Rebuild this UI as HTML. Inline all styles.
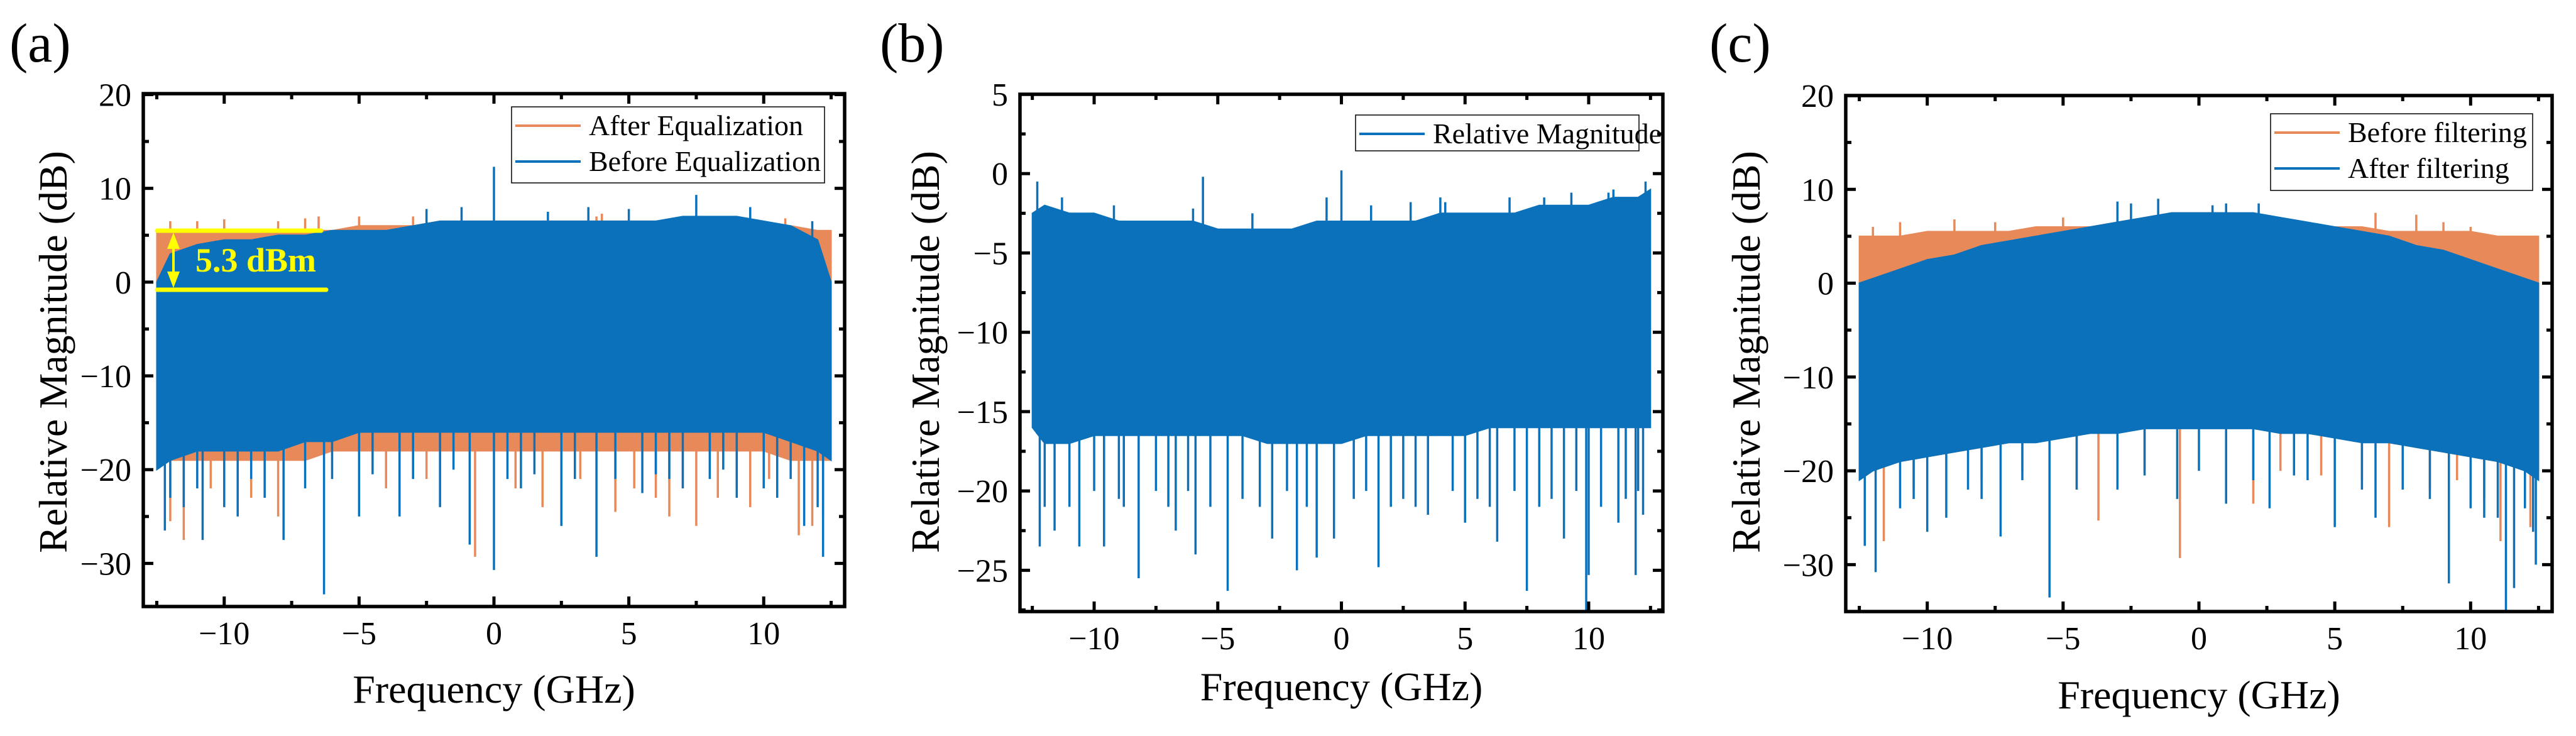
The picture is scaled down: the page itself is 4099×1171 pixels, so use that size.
<!DOCTYPE html>
<html><head><meta charset="utf-8">
<style>
html,body{margin:0;padding:0;background:#fff;}
svg{display:block;}
svg text{font-family:"Liberation Serif","DejaVu Serif",serif;}
</style></head>
<body>
<svg id="fig" width="4099" height="1171" viewBox="0 0 4099 1171" xmlns="http://www.w3.org/2000/svg" font-family="Liberation Serif, serif"></svg>
<script>
// ---------- DATA ----------
const freqGrid = [-12.5,-12,-11,-10,-9,-8,-7,-6,-5,-4,-3,-2,-1,0,1,2,3,4,5,6,7,8,9,10,11,12,12.5];
const xTicks = [-10,-5,0,5,10];
const xTickLabels = ["\u221210","\u22125","0","5","10"];

// Panel (a)
const aYTicks = [20,10,0,-10,-20,-30];
const aYTickLabels = ["20","10","0","\u221210","\u221220","\u221230"];
const aAfterUpper = [5.5,5.5,5.5,5.5,5.5,5.5,5.5,5.5,6,6,6,6.5,6.5,6.5,6.5,6.5,6.5,6.5,6.5,6.5,6.5,6.5,6.5,6,6,5.5,5.5];
const aAfterLower = [-19,-19,-19,-19,-19,-19,-19,-18,-18,-18,-18,-18,-18,-18,-18,-18,-18,-18,-18,-18,-18,-18,-18,-18,-19,-19,-19];
const aBeforeUpper = [0,3,4,4.5,4.5,5,5,5.5,5.5,5.5,6,6.5,6.5,6.5,6.5,6.5,6.5,6.5,6.5,6.5,7,7,7,6.5,6,4.5,0];
const aBeforeLower = [-20,-19,-18,-18,-18,-18,-17,-17,-16,-16,-16,-16,-16,-16,-16,-16,-16,-16,-16,-16,-16,-16,-16,-16,-17,-18,-19];
const aAfterSpikeF = [-12,-11.5,-8,-0.7,2.5,4.5,6.5,7.5,9.5,11.3,11.8,12.2,-12,-8,-5,3.8,-10.5,-9,-4,-2.5,0.8,1.8,3.2,5.2,6,7,8.3,9,10.2,-6.5,-11,-3,4,8,10.8,-10,-7];
const aAfterSpikeV = [-25.5,-27.5,-25,-29.3,-26,-24.5,-25,-26,-24,-27,-26,-25,6.5,6.5,7,7,-22,-23,-22,-21,-22,-24,-21,-22,-23,-22,-23,-22,-21,7,6.5,7,7.3,7,6.8,6.7,6.8];
const aBeforeSpikeF = [-12.2,-11.5,-10.8,-9.5,-8.5,-7.8,-6.3,-5,-3.5,-2,-0.9,0,1,2.5,3.8,5.5,7,9,10.5,11.5,12.2,0,7.5,-1.2,3.5,-12,-11,-10,-9,-7,-6,-4.5,-3,-1.5,0.5,1.5,3,4.5,6,6.5,8,8.5,10,11,12,-2.5,2,5,9.5,11.8];
const aBeforeSpikeV = [-26.5,-24,-27.5,-25,-23,-27.5,-33.3,-25,-25,-24,-28,-30.7,-22,-26,-29.3,-22.5,-22,-23,-23,-26,-29.3,12.3,9.3,8,8,-23,-22,-24,-21,-22,-21,-20.5,-21,-20,-21,-20.5,-21,-21,-20.5,-21,-21,-20,-22,-21,-24,7.8,7.5,7.8,8,6.5];

// Panel (b)
const bYTicks = [5,0,-5,-10,-15,-20,-25];
const bYTickLabels = ["5","0","\u22125","\u221210","\u221215","\u221220","\u221225"];
const bUpper = [-2.5,-2,-2.5,-2.5,-3,-3,-3,-3,-3.5,-3.5,-3.5,-3.5,-3,-3,-3,-3,-3,-2.5,-2.5,-2.5,-2.5,-2,-2,-2,-1.5,-1.5,-1];
const bLower = [-16,-17,-17,-16.5,-16.5,-16.5,-16.5,-16.5,-16.5,-16.5,-17,-17,-17,-17,-16.5,-16.5,-16.5,-16.5,-16.5,-16,-16,-16,-16,-16,-16,-16,-16];
const bSpikeF = [-12.2,-11.6,-10.6,-9.6,-8.2,-6.7,-5.9,-4.6,-2.8,-1.8,-1,-0.3,1.5,3.5,5,6.3,7.5,9,9.9,10,11.2,11.9,12.2,-5.6,0,-12.3,12.3,4,10.8,-12,-11,-10,-9,-8.8,-7.5,-7,-6.2,-5.3,-4,-3.3,-2.2,-1.4,0.5,1,2,2.5,3,4.5,5.5,6,7,8,8.5,9.5,10.5,11.5,12,-11.3,-9.2,-6,-3.6,-0.6,1.2,2.8,4.2,6.8,8.2,9.3,11];
const bSpikeV = [-23.5,-22.5,-23.5,-23.5,-25.5,-22.5,-24,-26.3,-23,-25,-24.2,-23,-24.8,-21.5,-22,-23.2,-26.3,-23,-27.5,-25.3,-22,-25.3,-21.5,-0.2,0.2,-0.5,-0.5,-1.5,-1.2,-21,-21,-20,-20.5,-21,-20,-21,-20,-21,-20.5,-21,-20,-21,-20.5,-20,-21,-20.5,-21,-20,-20.5,-21,-20,-21,-20.5,-20,-21,-20.5,-20,-1.5,-2,-2.2,-2.5,-1.5,-2,-1.8,-1.8,-1.5,-1.5,-1.2,-1];

// Panel (c)
const cYTicks = [20,10,0,-10,-20,-30];
const cYTickLabels = ["20","10","0","\u221210","\u221220","\u221230"];
const cBeforeUpper = [5,5,5,5.5,5.5,5.5,5.5,6,6,6,6.5,7,7.5,7.5,7.5,7,6.5,6,6,6,5.5,5.5,5.5,5.5,5,5,5];
const cBeforeLower = [-20,-19.5,-19,-18.5,-18,-17.5,-17,-16.5,-16,-15.5,-15,-14.5,-14,-14,-14,-14.5,-15,-15.5,-16,-16.5,-17,-17.5,-18,-18.5,-19,-19.5,-20];
const cAfterUpper = [0,0.5,1.5,2.5,3,4,4.5,5,5.5,6,6.5,7,7.5,7.5,7.5,7.5,7,6.5,6,5.5,5,4,3.5,2.5,1.5,0.5,0];
const cAfterLower = [-21,-20,-19,-18.5,-18,-17.5,-17,-17,-16.5,-16,-16,-15.5,-15.5,-15.5,-15.5,-15.5,-16,-16,-16.5,-17,-17,-17.5,-18,-18.5,-19,-20,-21];
const cBeforeSpikeF = [-11.6,-3.7,-0.7,2,7,11.1,12.2,6.5,8,-9,-12,-0.8,0.5,-10.5,-8,-6.5,-4.5,-2,1,3,4.5,6,8.5,9.5,10.5,-11,-7.5,-5,9,10];
const cBeforeSpikeV = [-27.5,-25.3,-29.3,-23.5,-26,-27.5,-26,7.5,7.3,6.8,6,-12.8,-12.8,-22,-21,-20,-22,-20,-21,-20,-20.5,-21,-22,-21,-23,6.5,6.5,7,6.5,6];
const cAfterSpikeF = [-12.3,-11.9,-10,-9.3,-7.3,-5.5,-3,-0.8,1,2.6,5,6.5,9.2,10.5,11.3,11.6,12.3,12.4,-1.5,-3,1,-11,-10.5,-8.5,-8,-6.5,-4.5,-2,0,2,3.5,4,6,7.5,8.5,10,11,12,-2.5,0.5,2.2];
const cAfterSpikeV = [-28,-30.8,-26.5,-25,-27,-33.5,-22,-23,-23.5,-24,-26,-25,-32,-25,-35,-32.5,-26.5,-30,9,8.7,8.5,-24,-23,-22,-23,-21,-22,-20.5,-20,-21,-20.5,-21,-22,-22,-23,-24,-25,-24,8.5,8.3,8.5];

// ---------- DRAW ----------
const NS = "http://www.w3.org/2000/svg";
const svg = document.getElementById("fig");
const ORANGE = "#E8895A", BLUE = "#0A71BA";
const FONT = "Liberation Serif, DejaVu Serif, serif";

function mk(tag, attrs, parent){
  const e = document.createElementNS(NS, tag);
  for (const k in attrs) e.setAttribute(k, attrs[k]);
  if (tag === "text") e.setAttribute("font-family", FONT);
  (parent||svg).appendChild(e);
  return e;
}

function panel(p){
  const g = mk("g", {});
  
  
  const sx = f => p.x0 + (f - p.fmin) / (p.fmax - p.fmin) * (p.x1 - p.x0);
  const sy = v => p.y0 + (p.vmax - v) / (p.vmax - p.vmin) * (p.y1 - p.y0);
  const clipId = "clip-" + p.name;
  const defs = mk("defs", {}, g);
  const cp = mk("clipPath", {id: clipId}, defs);
  mk("rect", {x:p.x0, y:p.y0, width:p.x1-p.x0, height:p.y1-p.y0}, cp);
  const data = mk("g", {"clip-path":"url(#"+clipId+")"}, g);
  
  

  p.series.forEach(s => {
    let pts = [];
    for (let i = 0; i < freqGrid.length; i++) pts.push(sx(freqGrid[i]).toFixed(1) + "," + sy(s.upper[i]).toFixed(1));
    for (let i = freqGrid.length - 1; i >= 0; i--) pts.push(sx(freqGrid[i]).toFixed(1) + "," + sy(s.lower[i]).toFixed(1));
    const band = mk("polygon", {points: pts.join(" "), fill: s.color, stroke: s.color, "stroke-width": 2}, data);
    
    
    for (let i = 0; i < s.spikeF.length; i++) {
      const f = s.spikeF[i], v = s.spikeV[i];
      let k = 0; while (k < freqGrid.length - 2 && freqGrid[k+1] < f) k++;
      const t = (f - freqGrid[k]) / (freqGrid[k+1] - freqGrid[k]);
      const base = v > 0 ? s.upper[k] + t*(s.upper[k+1]-s.upper[k]) : s.lower[k] + t*(s.lower[k+1]-s.lower[k]);
      const ln = mk("line", {x1: sx(f), x2: sx(f), y1: sy(base), y2: sy(v), stroke: s.color, "stroke-width": 3.5}, data);
      
      
    }
  });

  if (p.annot) p.annot(g, sx, sy);

  const fr = mk("rect", {x:p.x0, y:p.y0, width:p.x1-p.x0, height:p.y1-p.y0, fill:"none", stroke:"#000", "stroke-width":5.5}, g);
  
  

  for (let f = -12.5; f <= 12.51; f += 2.5) {
    const major = Math.abs(f % 5) < 1e-6;
    const L = major ? 16 : 9;
    mk("line", {x1:sx(f), x2:sx(f), y1:p.y1, y2:p.y1-L, stroke:"#000", "stroke-width":5}, g);
    mk("line", {x1:sx(f), x2:sx(f), y1:p.y0, y2:p.y0+L, stroke:"#000", "stroke-width":5}, g);
  }
  xTicks.forEach((f, i) => {
    const t = mk("text", {x: sx(f), y: p.y1 + 60, "text-anchor":"middle", "font-size":52}, g);
    t.textContent = xTickLabels[i];
    
    
  });
  const yt = p.yTicks;
  const step = Math.abs(yt[0] - yt[1]) / 2;
  for (let v = yt[yt.length-1] - step*2; v <= p.vmax + 1e-6; v += step) {
    if (v < p.vmin - 1e-6) continue;
    const major = yt.some(q => Math.abs(q - v) < 1e-6);
    const L = major ? 16 : 9;
    mk("line", {x1:p.x0, x2:p.x0+L, y1:sy(v), y2:sy(v), stroke:"#000", "stroke-width":5}, g);
    mk("line", {x1:p.x1, x2:p.x1-L, y1:sy(v), y2:sy(v), stroke:"#000", "stroke-width":5}, g);
  }
  yt.forEach((v, i) => {
    const t = mk("text", {x: p.x0 - 19, y: sy(v) + 18, "text-anchor":"end", "font-size":52}, g);
    t.textContent = p.yTickLabels[i];
    
    
  });

  const xt = mk("text", {x:(p.x0+p.x1)/2, y:p.xTitleY, "text-anchor":"middle", "font-size":64}, g);
  xt.textContent = "Frequency (GHz)";
  
  
  const ytl = mk("text", {x:0, y:0, "text-anchor":"middle", "font-size":64, transform:"translate("+p.yTitleX+",560) rotate(-90)"}, g);
  ytl.textContent = "Relative Magnitude (dB)";
  
  
  const pl = mk("text", {x:p.labelX, y:98, "font-size":88}, g);
  pl.textContent = p.label;
  
  

  const lg = mk("g", {}, g);
  
  
  const L = p.legend;
  mk("rect", {x:L.x, y:L.y, width:L.w, height:L.h, fill:"#fff", stroke:"#000", "stroke-width":1.5}, lg);
  L.items.forEach((it, i) => {
    const cy = L.y + 30 + i * 57;
    const e = mk("g", {}, lg);
    
    
    mk("line", {x1:L.x+6, x2:L.x+110, y1:cy, y2:cy, stroke:it.color, "stroke-width":4}, e);
    const t = mk("text", {x:L.x+123, y:cy+15, "font-size":46}, e);
    t.textContent = it.text;
  });
}

panel({
  name:"panel-a", label:"(a)", labelX:15,
  x0:228, x1:1344, y0:149, y1:965, fmin:-13, fmax:13, vmin:-34.6, vmax:20.1,
  yTicks:aYTicks, yTickLabels:aYTickLabels, xTitleY:1118, yTitleX:106,
  series:[
    {key:"after-equalization", color:ORANGE, upper:aAfterUpper, lower:aAfterLower, spikeF:aAfterSpikeF, spikeV:aAfterSpikeV},
    {key:"before-equalization", color:BLUE, upper:aBeforeUpper, lower:aBeforeLower, spikeF:aBeforeSpikeF, spikeV:aBeforeSpikeV}
  ],
  legend:{x:814, y:170, w:498, h:121, items:[{text:"After Equalization", color:ORANGE},{text:"Before Equalization", color:BLUE}]},
  annot:(g, sx, sy) => {
    const a = mk("g", {}, g);
    
    
    const Y = "#FFFF00";
    mk("line", {x1:250, x2:511, y1:367, y2:367, stroke:Y, "stroke-width":7, "stroke-linecap":"round"}, a);
    mk("line", {x1:250, x2:519, y1:461, y2:461, stroke:Y, "stroke-width":7, "stroke-linecap":"round"}, a);
    mk("line", {x1:276, x2:276, y1:380, y2:450, stroke:Y, "stroke-width":4}, a);
    mk("polygon", {points:"276,370 266,396 286,396", fill:Y}, a);
    mk("polygon", {points:"276,458 266,432 286,432", fill:Y}, a);
    const t = mk("text", {x:311, y:432, "font-size":54, "font-weight":"bold", fill:Y}, a);
    t.textContent = "5.3 dBm";
  }
});

panel({
  name:"panel-b", label:"(b)", labelX:1400,
  x0:1623, x1:2646, y0:150, y1:973, fmin:-13, fmax:13, vmin:-27.6, vmax:5,
  yTicks:bYTicks, yTickLabels:bYTickLabels, xTitleY:1114, yTitleX:1494,
  series:[
    {key:"relative-magnitude", color:BLUE, upper:bUpper, lower:bLower, spikeF:bSpikeF, spikeV:bSpikeV}
  ],
  legend:{x:2157, y:183, w:451, h:57, items:[{text:"Relative Magnitude", color:BLUE}]}
});

panel({
  name:"panel-c", label:"(c)", labelX:2720,
  x0:2937, x1:4061, y0:152, y1:973, fmin:-13, fmax:13, vmin:-35, vmax:20,
  yTicks:cYTicks, yTickLabels:cYTickLabels, xTitleY:1127, yTitleX:2800,
  series:[
    {key:"before-filtering", color:ORANGE, upper:cBeforeUpper, lower:cBeforeLower, spikeF:cBeforeSpikeF, spikeV:cBeforeSpikeV},
    {key:"after-filtering", color:BLUE, upper:cAfterUpper, lower:cAfterLower, spikeF:cAfterSpikeF, spikeV:cAfterSpikeV}
  ],
  legend:{x:3613, y:181, w:417, h:122, items:[{text:"Before filtering", color:ORANGE},{text:"After filtering", color:BLUE}]}
});
</script>
</body></html>
